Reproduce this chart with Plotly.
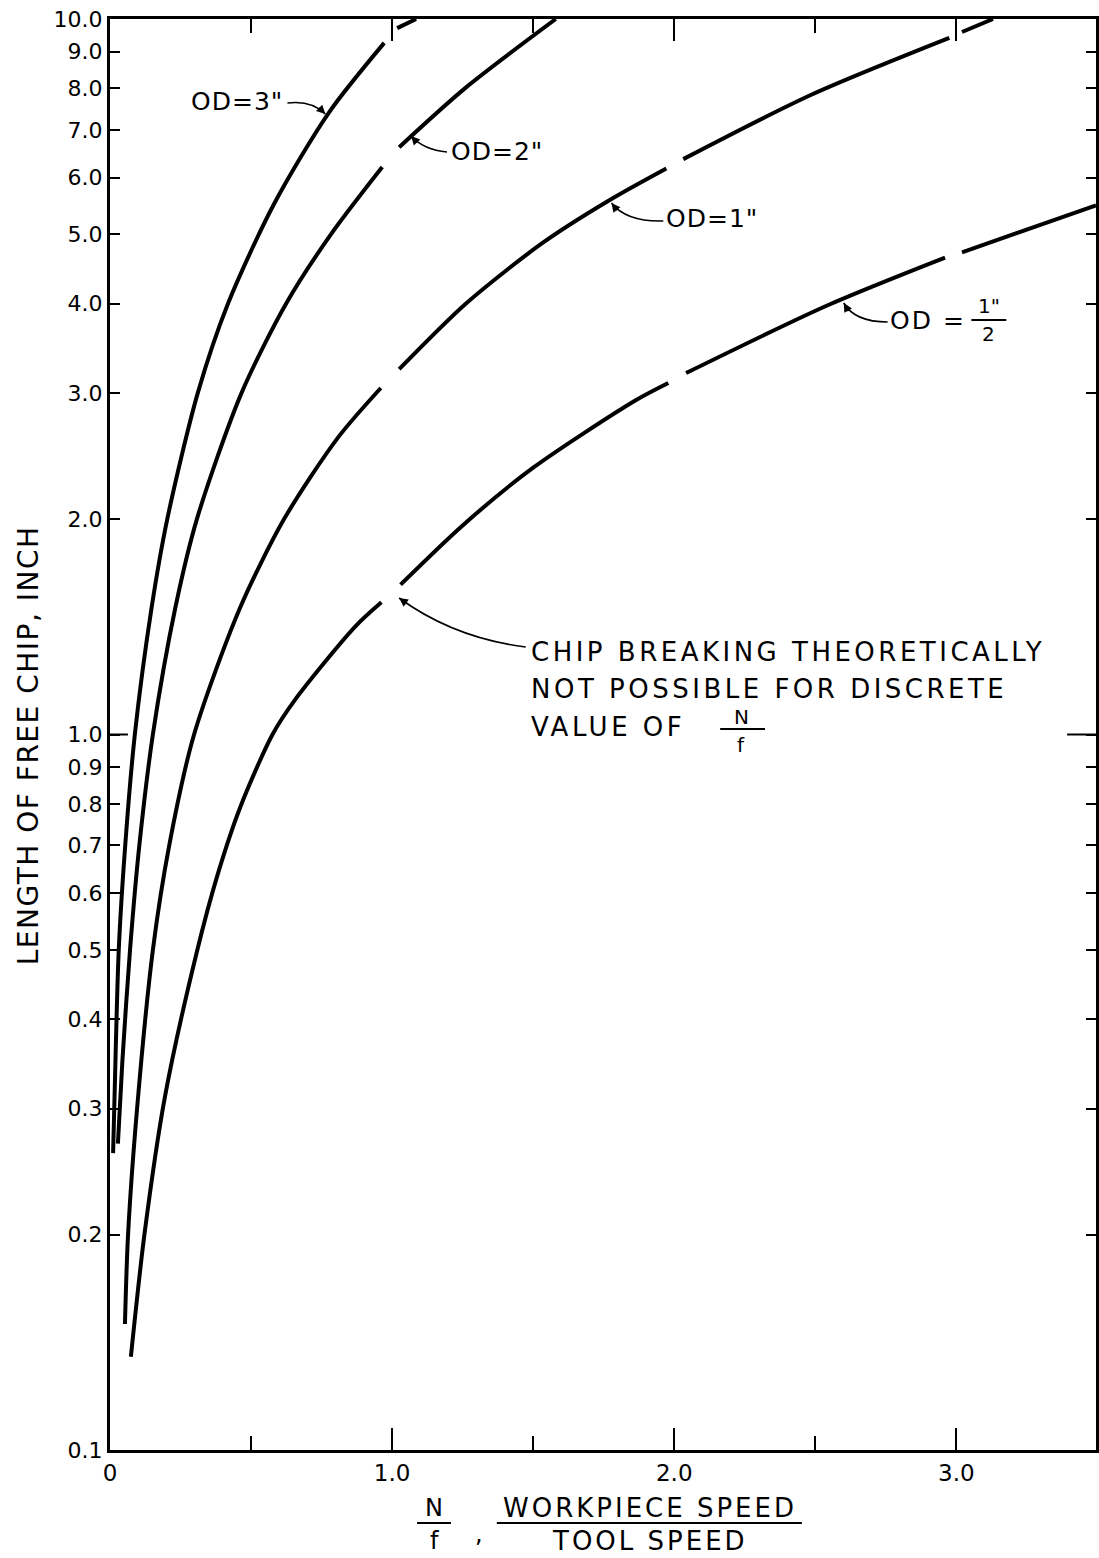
import math
import plotly.graph_objects as go

# ---------------- data ----------------
od3_x = [0.011, 0.016, 0.031, 0.054, 0.088, 0.147, 0.203, 0.311, 0.418, 0.580, 0.776, 0.972, None, 1.018, 1.085]
od3_y = [0.260, 0.310, 0.500, 0.700, 1.000, 1.500, 2.000, 3.000, 4.000, 5.500, 7.400, 9.260, None, 9.710, 10.00]

od2_x = [0.028, 0.044, 0.071, 0.104, 0.152, 0.231, 0.308, 0.466, 0.624, 0.783, 0.965, None, 1.025, 1.258, 1.580]
od2_y = [0.268, 0.350, 0.500, 0.700, 1.000, 1.500, 2.000, 3.000, 4.000, 5.000, 6.210, None, 6.620, 8.000, 10.00]

od1_x = [0.053, 0.064, 0.096, 0.152, 0.210, 0.298, 0.460, 0.617, 0.808, 0.960, None,
         1.025, 1.261, 1.532, 1.770, 1.972, None, 2.032, 2.484, 2.975, None, 3.020, 3.130]
od1_y = [0.150, 0.200, 0.300, 0.500, 0.700, 1.000, 1.500, 2.000, 2.600, 3.050, None,
         3.240, 4.000, 4.860, 5.580, 6.180, None, 6.370, 7.830, 9.410, None, 9.590, 10.00]

odh_x = [0.074, 0.122, 0.195, 0.308, 0.382, 0.462, 0.576, 0.655, 0.869, 0.962, None,
         1.030, 1.250, 1.500, 1.862, 1.979, None, 2.042, 2.544, 2.960, None, 3.020, 3.495]
odh_y = [0.135, 0.200, 0.312, 0.497, 0.638, 0.792, 1.000, 1.117, 1.415, 1.530, None,
         1.620, 1.960, 2.360, 2.930, 3.100, None, 3.200, 3.980, 4.640, None, 4.720, 5.490]

series_names = ['OD=3"', 'OD=2"', 'OD=1"', 'OD=1/2"']
series_x = [od3_x, od2_x, od1_x, odh_x]
series_y = [od3_y, od2_y, od1_y, odh_y]

y_tickvals = [0.1, 0.2, 0.3, 0.4, 0.5, 0.6, 0.7, 0.8, 0.9, 1, 2, 3, 4, 5, 6, 7, 8, 9, 10]
y_ticktext = ["0.1", "0.2", "0.3", "0.4", "0.5", "0.6", "0.7", "0.8", "0.9",
              "1.0", "2.0", "3.0", "4.0", "5.0", "6.0", "7.0", "8.0", "9.0", "10.0"]
x_tickvals = [0, 1, 2, 3]
x_ticktext = ["0", "1.0", "2.0", "3.0"]
x_minor_tickvals = [0.5, 1.5, 2.5]

# ---------------- layout geometry ----------------
W, H = 1099, 1558
L, R, T, B = 110, 1099, 19, 1450
FONT = "DejaVu Sans"


def px(xp):
    return (xp - L) / (R - L)


def py(yp):
    return (B - yp) / (B - T)


fig = go.Figure()
for name, xs, ys in zip(series_names, series_x, series_y):
    fig.add_trace(go.Scatter(
        x=xs, y=ys, mode="lines", name=name, connectgaps=False,
        line=dict(color="black", width=4, shape="spline", smoothing=0.8),
        showlegend=False, hoverinfo="skip"))

fig.update_layout(
    width=W, height=H,
    margin=dict(l=L, r=W - R, t=T, b=H - B, pad=0),
    paper_bgcolor="white", plot_bgcolor="white",
    font=dict(family=FONT, color="black"),
)

fig.update_xaxes(
    range=[0, 3.495], showline=True, linewidth=3, linecolor="black", mirror="ticks",
    ticks="inside", ticklen=22, tickwidth=2, tickcolor="black",
    tickvals=x_tickvals, ticktext=x_ticktext, tickfont=dict(size=23, family=FONT),
    showgrid=False, zeroline=False,
    minor=dict(tickvals=x_minor_tickvals, ticks="inside", ticklen=14, tickwidth=2,
               tickcolor="black", showgrid=False),
)
fig.update_yaxes(
    type="log", range=[-1, 1], showline=True, linewidth=3, linecolor="black", mirror="ticks",
    ticks="inside", ticklen=10, tickwidth=2, tickcolor="black",
    tickvals=y_tickvals, ticktext=y_ticktext, tickfont=dict(size=22, family=FONT),
    showgrid=False, zeroline=False,
)

# longer ticks at 1.0
for x0, x1 in [(L, 128), (1070, R)]:
    fig.add_shape(type="line", xref="paper", yref="paper", x0=px(x0), x1=px(x1), y0=0.5, y1=0.5,
                  line=dict(color="black", width=2))


def txt(s, xp, yp, size, xanchor="center", ls=0, angle=0):
    if ls:
        s = f'<span style="letter-spacing:{ls}px">{s}</span>'
    fig.add_annotation(x=px(xp), y=py(yp), xref="paper", yref="paper", text=s, showarrow=False,
                       font=dict(size=size, family=FONT, color="black"),
                       xanchor=xanchor, yanchor="middle", textangle=angle)


def bar(x0, x1, yp, w=2):
    fig.add_shape(type="line", xref="paper", yref="paper", x0=px(x0), x1=px(x1),
                  y0=py(yp), y1=py(yp), line=dict(color="black", width=w))


def leader(tail, ctrl, tip):
    path = (f"M {px(tail[0])},{py(tail[1])} Q {px(ctrl[0])},{py(ctrl[1])} "
            f"{px(tip[0])},{py(tip[1])}")
    fig.add_shape(type="path", path=path, xref="paper", yref="paper",
                  line=dict(color="black", width=1.6))
    dx, dy = tip[0] - ctrl[0], tip[1] - ctrl[1]
    n = math.hypot(dx, dy)
    fig.add_annotation(x=px(tip[0]), y=py(tip[1]), xref="paper", yref="paper",
                       ax=-dx / n * 11, ay=-dy / n * 11, text="", showarrow=True,
                       arrowhead=2, arrowsize=1.1, arrowwidth=1.6, arrowcolor="black")


# curve labels
txt('OD=3"', 237, 102, 25, ls=1)
leader((288, 103), (312, 100), (326, 114))
txt('OD=2"', 498, 151, 25, ls=1)
leader((448, 152), (425, 150), (412, 136))
txt('OD=1"', 714, 218, 25, ls=1)
leader((665, 221), (628, 222), (613, 203))
txt('OD =', 930, 321, 25, ls=2)
txt('1"', 992, 306, 20)
txt('2', 991, 334, 20)
bar(974, 1009, 320)
leader((890, 322), (857, 322), (846, 303))

# chip breaking note
txt("CHIP BREAKING THEORETICALLY", 530, 652, 26, xanchor="left", ls=3.5)
txt("NOT POSSIBLE FOR DISCRETE", 530, 689, 26, xanchor="left", ls=3.5)
txt("VALUE OF", 530, 727, 26, xanchor="left", ls=3.5)
txt("N", 743, 717, 20)
bar(722, 767, 729)
txt("f", 743, 745, 20)
leader((527, 647), (455, 638), (400, 598))

# axis titles
txt("LENGTH OF FREE CHIP, INCH", 28, 745, 28, ls=1.5, angle=-90)
txt("N", 435, 1508, 24)
bar(418, 452, 1523)
txt("f", 435, 1541, 24)
txt(",", 480, 1534, 24)
txt("WORKPIECE SPEED", 652, 1508, 26, ls=3)
bar(498, 804, 1523)
txt("TOOL SPEED", 652, 1541, 26, ls=3)

fig.write_html("out.html")
